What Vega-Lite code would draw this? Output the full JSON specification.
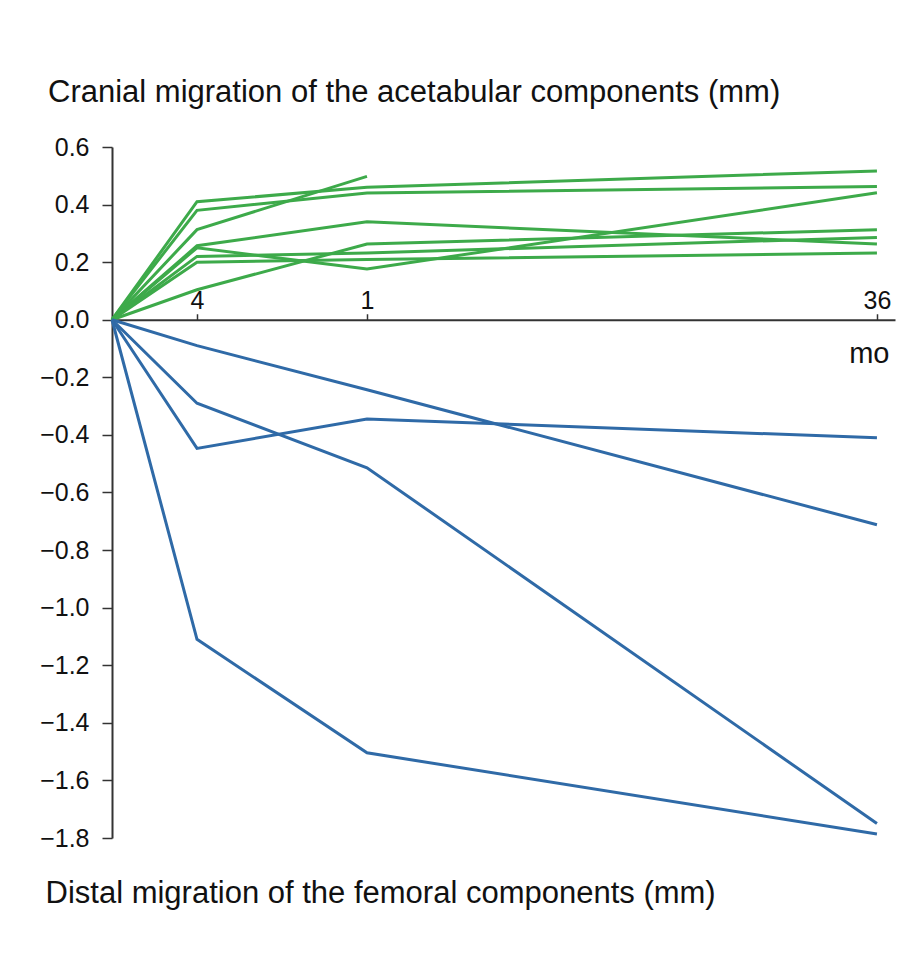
{
  "$schema": "https://vega.github.io/schema/vega-lite/v6.json",
  "autosize": {"type": "none"},
  "width": 783,
  "height": 691,
  "padding": {"left": 112, "top": 147, "right": 12, "bottom": 135},
  "background": "white",
  "config": {
    "view": {"stroke": null},
    "font": "Liberation Sans"
  },
  "title": {
    "text": "Cranial migration of the acetabular components (mm)",
    "anchor": "start",
    "frame": "group",
    "fontSize": 31,
    "fontWeight": "normal",
    "color": "#111",
    "baseline": "alphabetic",
    "dx": -64,
    "offset": 2
  },
  "data": {
    "values": [
      {"id": "A1", "component": "acetabular", "month": 0, "mm": 0},
      {"id": "A1", "component": "acetabular", "month": 4, "mm": 0.41},
      {"id": "A1", "component": "acetabular", "month": 12, "mm": 0.46},
      {"id": "A1", "component": "acetabular", "month": 36, "mm": 0.517},
      {"id": "A2", "component": "acetabular", "month": 0, "mm": 0},
      {"id": "A2", "component": "acetabular", "month": 4, "mm": 0.38},
      {"id": "A2", "component": "acetabular", "month": 12, "mm": 0.44},
      {"id": "A2", "component": "acetabular", "month": 36, "mm": 0.463},
      {"id": "A3", "component": "acetabular", "month": 0, "mm": 0},
      {"id": "A3", "component": "acetabular", "month": 4, "mm": 0.313},
      {"id": "A3", "component": "acetabular", "month": 12, "mm": 0.498},
      {"id": "A4", "component": "acetabular", "month": 0, "mm": 0},
      {"id": "A4", "component": "acetabular", "month": 4, "mm": 0.257},
      {"id": "A4", "component": "acetabular", "month": 12, "mm": 0.34},
      {"id": "A4", "component": "acetabular", "month": 36, "mm": 0.263},
      {"id": "A5", "component": "acetabular", "month": 0, "mm": 0},
      {"id": "A5", "component": "acetabular", "month": 4, "mm": 0.25},
      {"id": "A5", "component": "acetabular", "month": 12, "mm": 0.176},
      {"id": "A5", "component": "acetabular", "month": 36, "mm": 0.441},
      {"id": "A6", "component": "acetabular", "month": 0, "mm": 0},
      {"id": "A6", "component": "acetabular", "month": 4, "mm": 0.104},
      {"id": "A6", "component": "acetabular", "month": 12, "mm": 0.263},
      {"id": "A6", "component": "acetabular", "month": 36, "mm": 0.313},
      {"id": "A7", "component": "acetabular", "month": 0, "mm": 0},
      {"id": "A7", "component": "acetabular", "month": 4, "mm": 0.22},
      {"id": "A7", "component": "acetabular", "month": 12, "mm": 0.232},
      {"id": "A7", "component": "acetabular", "month": 36, "mm": 0.286},
      {"id": "A8", "component": "acetabular", "month": 0, "mm": 0},
      {"id": "A8", "component": "acetabular", "month": 4, "mm": 0.2},
      {"id": "A8", "component": "acetabular", "month": 12, "mm": 0.209},
      {"id": "A8", "component": "acetabular", "month": 36, "mm": 0.232},
      {"id": "F1", "component": "femoral", "month": 0, "mm": 0},
      {"id": "F1", "component": "femoral", "month": 4, "mm": -0.09},
      {"id": "F1", "component": "femoral", "month": 12, "mm": -0.243},
      {"id": "F1", "component": "femoral", "month": 36, "mm": -0.712},
      {"id": "F2", "component": "femoral", "month": 0, "mm": 0},
      {"id": "F2", "component": "femoral", "month": 4, "mm": -0.447},
      {"id": "F2", "component": "femoral", "month": 12, "mm": -0.345},
      {"id": "F2", "component": "femoral", "month": 36, "mm": -0.41},
      {"id": "F3", "component": "femoral", "month": 0, "mm": 0},
      {"id": "F3", "component": "femoral", "month": 4, "mm": -0.29},
      {"id": "F3", "component": "femoral", "month": 12, "mm": -0.514},
      {"id": "F3", "component": "femoral", "month": 36, "mm": -1.75},
      {"id": "F4", "component": "femoral", "month": 0, "mm": 0},
      {"id": "F4", "component": "femoral", "month": 4, "mm": -1.11},
      {"id": "F4", "component": "femoral", "month": 12, "mm": -1.504},
      {"id": "F4", "component": "femoral", "month": 36, "mm": -1.786}
    ]
  },
  "mark": {"type": "line", "strokeWidth": 3, "clip": false},
  "encoding": {
    "x": {
      "field": "month",
      "type": "quantitative",
      "scale": {"domain": [0, 36.85], "nice": false, "zero": true},
      "axis": {
        "orient": "top",
        "offset": -172.75,
        "values": [4, 12, 36],
        "labelExpr": "datum.value == 12 ? '1' : datum.label",
        "grid": false,
        "domainColor": "#333",
        "domainWidth": 2,
        "tickColor": "#333",
        "tickWidth": 1.5,
        "tickSize": 6,
        "labelPadding": 0,
        "labelFontSize": 25,
        "labelColor": "#111",
        "labelFont": "Liberation Sans",
        "title": "mo",
        "titleFont": "Liberation Sans",
        "titleFontSize": 29,
        "titleFontWeight": "normal",
        "titleColor": "#111",
        "titleAlign": "right",
        "titleBaseline": "alphabetic",
        "titleAnchor": null,
        "titleX": 777,
        "titleY": 43
      }
    },
    "y": {
      "field": "mm",
      "type": "quantitative",
      "scale": {"domain": [-1.8, 0.6], "nice": false, "zero": false},
      "axis": {
        "values": [-1.8, -1.6, -1.4, -1.2, -1.0, -0.8, -0.6, -0.4, -0.2, 0.0, 0.2, 0.4, 0.6],
        "format": ".1f",
        "grid": false,
        "domainColor": "#333",
        "domainWidth": 2,
        "tickColor": "#333",
        "tickWidth": 1.5,
        "tickSize": 10,
        "labelPadding": 13,
        "labelFontSize": 25,
        "labelColor": "#111",
        "labelFont": "Liberation Sans",
        "title": "Distal migration of the femoral components (mm)",
        "titleFont": "Liberation Sans",
        "titleFontSize": 31,
        "titleFontWeight": "normal",
        "titleColor": "#111",
        "titleAngle": 0,
        "titleAlign": "left",
        "titleBaseline": "alphabetic",
        "titleAnchor": null,
        "titleX": -67,
        "titleY": 755
      }
    },
    "color": {
      "field": "component",
      "type": "nominal",
      "scale": {"domain": ["acetabular", "femoral"], "range": ["#3DAA4A", "#2F6AA7"]},
      "legend": null
    },
    "detail": {"field": "id", "type": "nominal"}
  }
}
